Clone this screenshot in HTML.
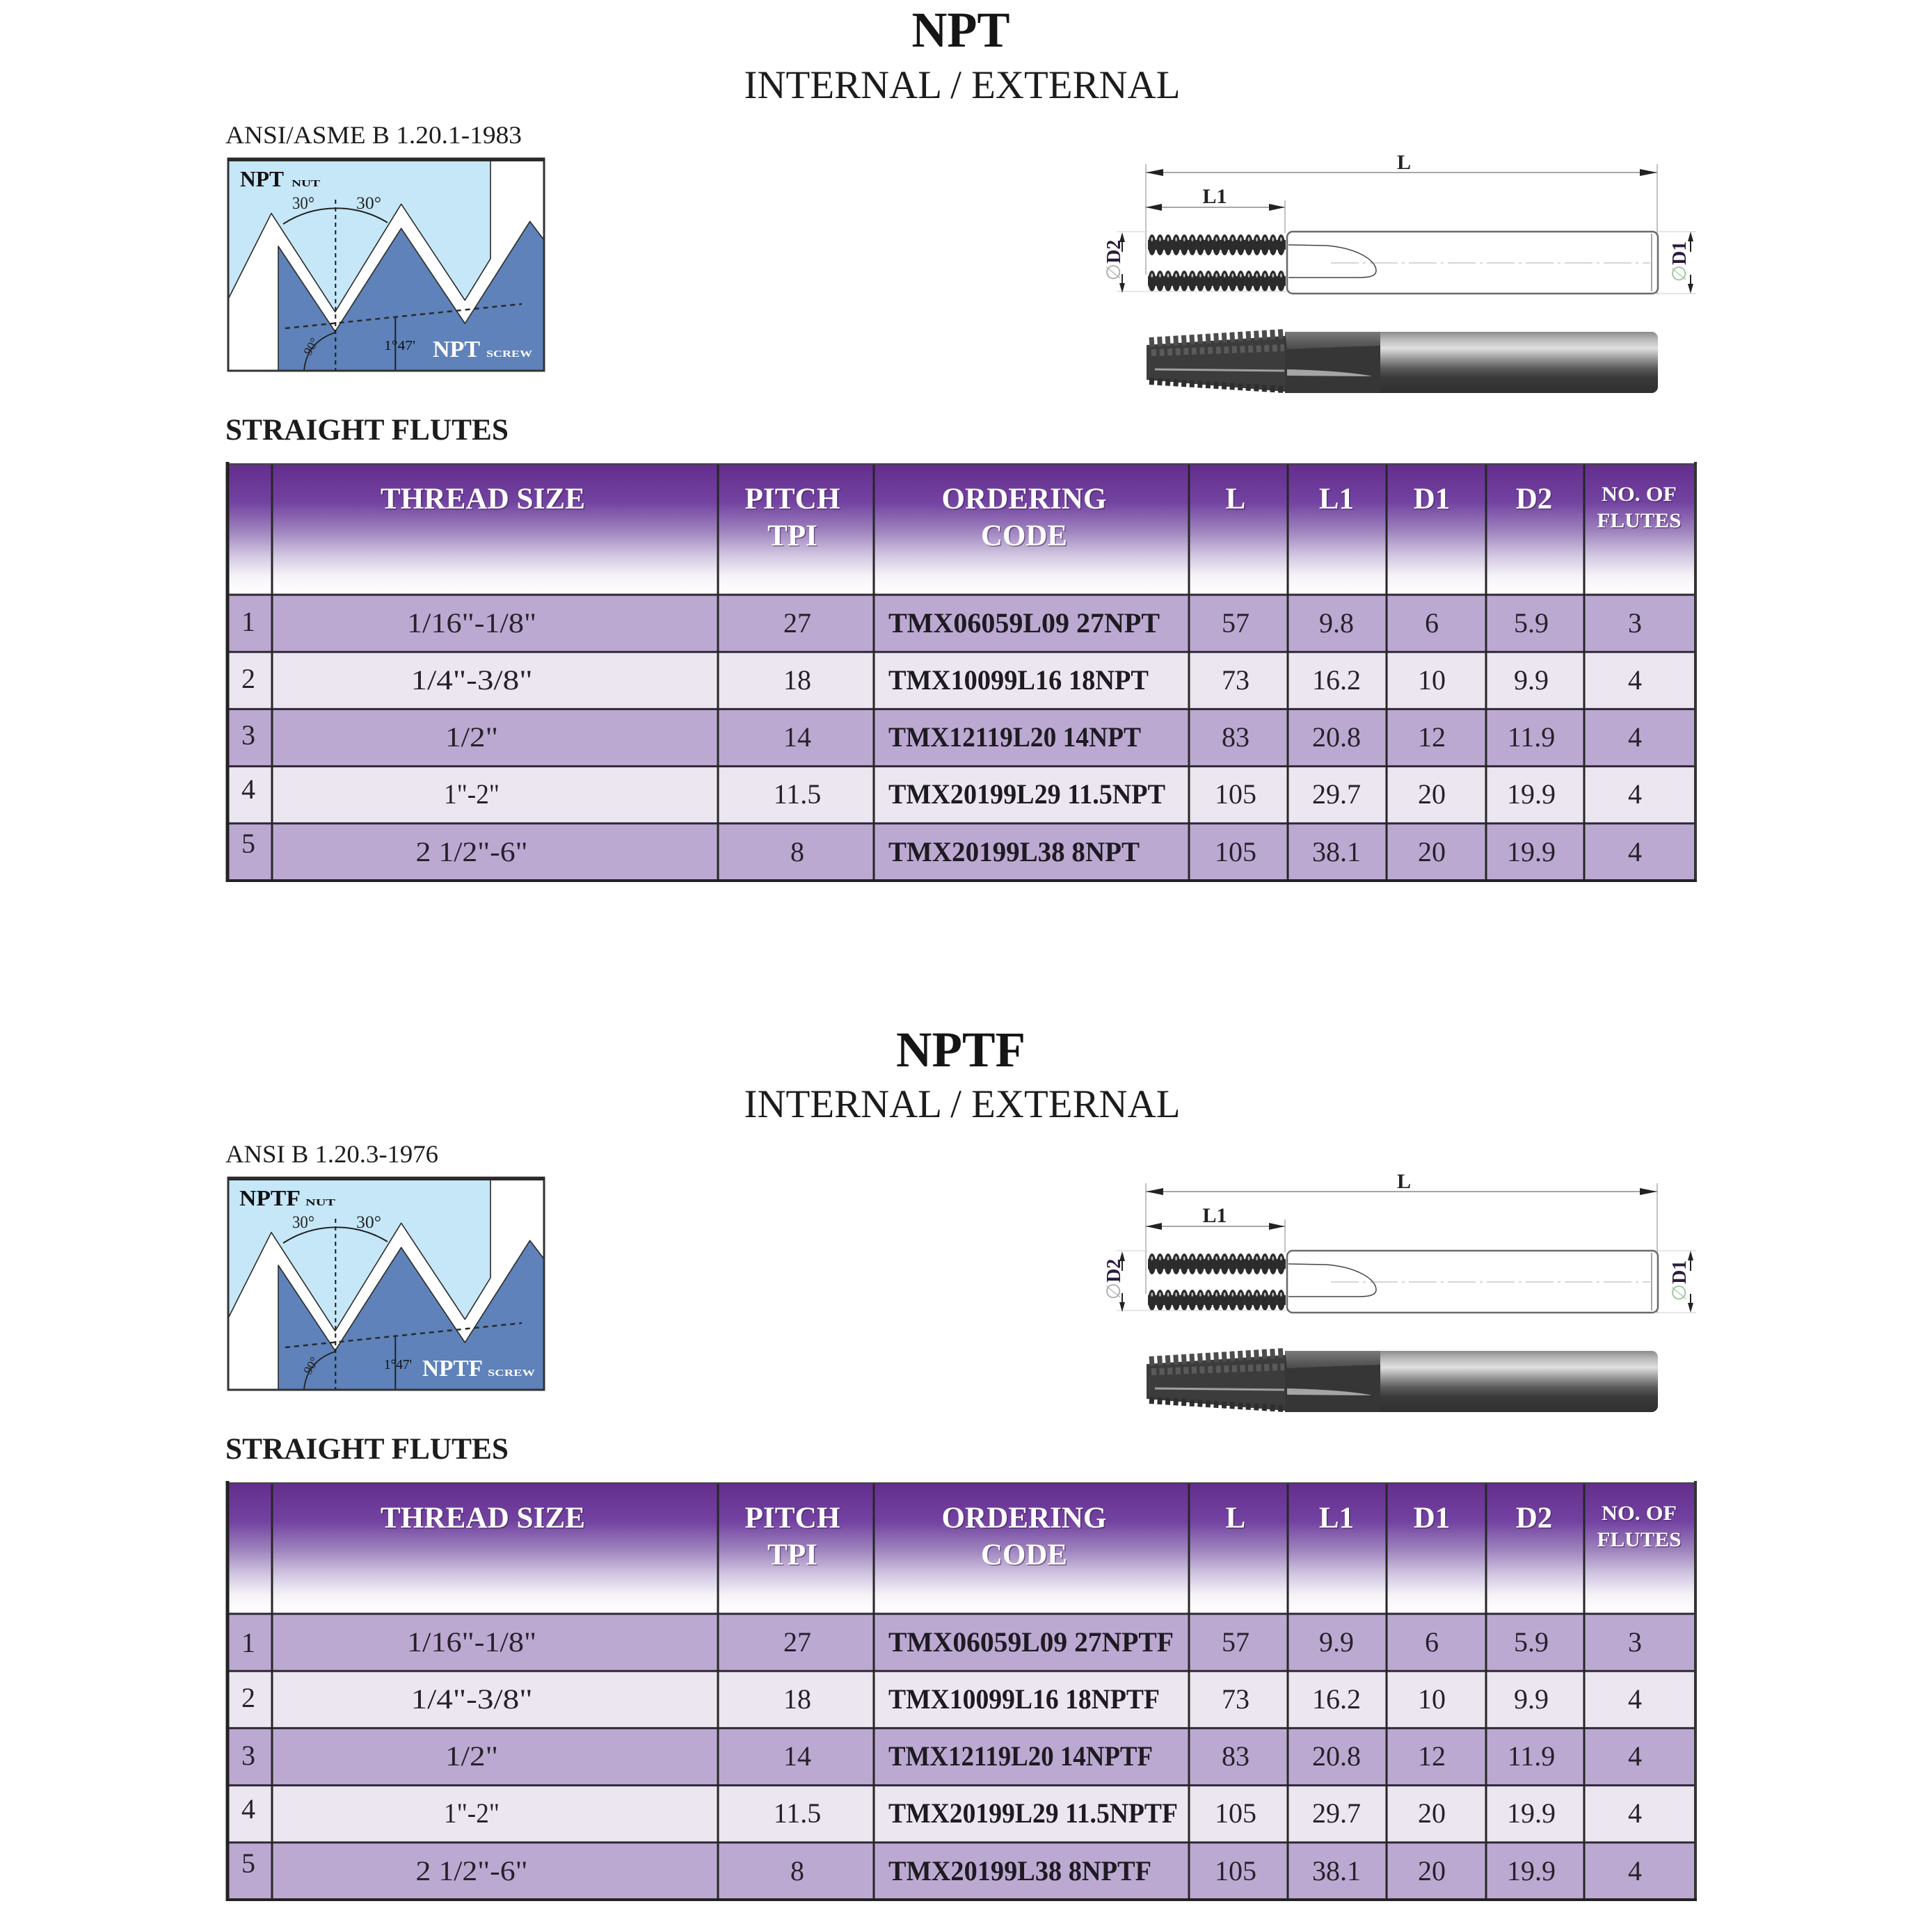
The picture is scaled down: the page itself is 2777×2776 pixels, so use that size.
<!DOCTYPE html>
<html>
<head>
<meta charset="utf-8">
<style>
html,body{margin:0;padding:0;background:#fff;}
svg{display:block;font-family:"Liberation Serif","DejaVu Serif",serif;}
.hs{fill:#3a1d4f;opacity:0.55;font-weight:bold;}
.hw{fill:#ffffff;font-weight:bold;}
.d{fill:#26212b;font-size:40px;}
.c{fill:#1e1a22;font-size:40px;font-weight:bold;}
</style>
</head>
<body>
<svg width="2777" height="2776" viewBox="0 0 2777 2776" xmlns="http://www.w3.org/2000/svg">
<defs>
  <linearGradient id="hdr" x1="0" y1="0" x2="0" y2="1">
    <stop offset="0" stop-color="#632d8c"/>
    <stop offset="0.3" stop-color="#7343a1"/>
    <stop offset="0.52" stop-color="#9f85be"/>
    <stop offset="0.7" stop-color="#d2c6e1"/>
    <stop offset="0.86" stop-color="#f6f3f8"/>
    <stop offset="1" stop-color="#ffffff"/>
  </linearGradient>
  <linearGradient id="shk" x1="0" y1="0" x2="0" y2="1">
    <stop offset="0" stop-color="#8c8c8c"/>
    <stop offset="0.12" stop-color="#b8b8b8"/>
    <stop offset="0.27" stop-color="#e0e0e0"/>
    <stop offset="0.42" stop-color="#a0a0a0"/>
    <stop offset="0.6" stop-color="#5a5a5a"/>
    <stop offset="0.75" stop-color="#3a3a3a"/>
    <stop offset="1" stop-color="#303030"/>
  </linearGradient>
  <linearGradient id="nk" x1="0" y1="0" x2="0" y2="1">
    <stop offset="0" stop-color="#7a7a7a"/>
    <stop offset="1" stop-color="#4a4a4a"/>
  </linearGradient>
  <pattern id="thr" x="1650" y="335" width="11.6" height="33" patternUnits="userSpaceOnUse">
    <rect x="0" y="10" width="11.6" height="14" fill="#333"/>
    <ellipse cx="5.8" cy="17" rx="5.6" ry="15" fill="#2b2b2b"/>
    <ellipse cx="5.8" cy="9" rx="1.4" ry="3" fill="#bdbdbd"/>
  </pattern>

  <g id="diag">
    <rect x="328" y="228" width="454" height="305" fill="#ffffff"/>
    <polygon points="328,228 705,228 705,372 668.3,431.7 576.7,293.3 481.7,448.3 390,306.7 328,430" fill="#c6e7f8"/>
    <polyline points="328,430 390,306.7 481.7,448.3 576.7,293.3 668.3,431.7 705,372 705,228" fill="none" stroke="#2a2a2a" stroke-width="1.6" stroke-linejoin="round"/>
    <polygon points="400,533 400,354 481.7,476.7 576.7,328.3 668.3,465 761.7,318.3 782,345 782,533" fill="#5e82b9"/>
    <polyline points="400,533 400,354 481.7,476.7 576.7,328.3 668.3,465 761.7,318.3 782,345" fill="none" stroke="#2a2a2a" stroke-width="1.6" stroke-linejoin="round"/>
    <line x1="482.3" y1="287" x2="482.3" y2="533" stroke="#1a1a1a" stroke-width="2" stroke-dasharray="6,5"/>
    <path d="M407,322 A141,141 0 0 1 557,320" fill="none" stroke="#222" stroke-width="2"/>
    <line x1="410" y1="472" x2="750" y2="437" stroke="#2a2a2a" stroke-width="2.5" stroke-dasharray="7,6"/>
    <line x1="568.3" y1="456" x2="568.3" y2="532" stroke="#222" stroke-width="2"/>
    <path d="M481.7,478 C455,487 440,505 437,532" fill="none" stroke="#222" stroke-width="1.8"/>
    <rect x="328" y="228" width="454" height="305" fill="none" stroke="#333" stroke-width="3"/>
    <line x1="327" y1="229.5" x2="783" y2="229.5" stroke="#2a2a2a" stroke-width="5"/>
  </g>

  <g id="tool">
    <line x1="1647" y1="248" x2="2382" y2="248" stroke="#8a8a8a" stroke-width="1.5"/>
    <polygon points="1647,248 1672,243 1672,253" fill="#222"/>
    <polygon points="2382,248 2357,243 2357,253" fill="#222"/>
    <line x1="1647" y1="236" x2="1647" y2="395" stroke="#999" stroke-width="1.2"/>
    <line x1="2382" y1="236" x2="2382" y2="423" stroke="#999" stroke-width="1.2"/>
    <line x1="1647" y1="298" x2="1847" y2="298" stroke="#8a8a8a" stroke-width="1.5"/>
    <polygon points="1647,298 1670,293 1670,303" fill="#222"/>
    <polygon points="1847,298 1824,293 1824,303" fill="#222"/>
    <line x1="1847" y1="288" x2="1847" y2="335" stroke="#999" stroke-width="1.2"/>
    <rect x="1850" y="333" width="533" height="89" rx="8" fill="#fff" stroke="#6a6a6a" stroke-width="2.5"/>
    <line x1="2374" y1="336" x2="2374" y2="419" stroke="#888" stroke-width="1.5"/>
    <line x1="1913" y1="378" x2="2372" y2="378" stroke="#c8c8c8" stroke-width="1.5" stroke-dasharray="40,6,4,6"/>
    <rect x="1650" y="335" width="198" height="33" fill="url(#thr)"/>
    <rect x="1650" y="335" width="198" height="33" fill="url(#thr)" transform="translate(0,52)"/>
    <path d="M1852,352 L1905,353 C1950,356 1978,374 1978,389 C1978,397 1968,399 1952,399 L1852,399" fill="none" stroke="#444" stroke-width="1.5"/>
    <line x1="1605" y1="333" x2="1650" y2="333" stroke="#d8d8d8" stroke-width="1.2"/>
    <line x1="1605" y1="419" x2="1850" y2="419" stroke="#d8d8d8" stroke-width="1.2"/>
    <line x1="1613" y1="345" x2="1613" y2="362" stroke="#222" stroke-width="2"/>
    <polygon points="1613,334 1609,348 1617,348" fill="#222"/>
    <line x1="1613" y1="394" x2="1613" y2="410" stroke="#222" stroke-width="2"/>
    <polygon points="1613,421 1609,407 1617,407" fill="#222"/>
    <line x1="2383" y1="333" x2="2438" y2="333" stroke="#d8d8d8" stroke-width="1.2"/>
    <line x1="2383" y1="422" x2="2438" y2="422" stroke="#d8d8d8" stroke-width="1.2"/>
    <line x1="2430" y1="345" x2="2430" y2="362" stroke="#222" stroke-width="2"/>
    <polygon points="2430,333 2426,347 2434,347" fill="#222"/>
    <line x1="2430" y1="395" x2="2430" y2="410" stroke="#222" stroke-width="2"/>
    <polygon points="2430,422 2426,408 2434,408" fill="#222"/>
    <rect x="1975" y="477" width="408" height="88" rx="9" fill="url(#shk)"/>
    <polygon points="1648,496 1847,483 1847,563 1648,546" fill="#3c3c3c"/>
    <line x1="1652" y1="492" x2="1846" y2="480" stroke="#4d4d4d" stroke-width="14" stroke-dasharray="7 4.6"/>
    <line x1="1655" y1="507" x2="1846" y2="500" stroke="#5a5a5a" stroke-width="10" stroke-dasharray="7 4.6"/>
    <line x1="1652" y1="548" x2="1846" y2="560" stroke="#2e2e2e" stroke-width="10" stroke-dasharray="7 4.6"/>
    <line x1="1660" y1="531" x2="1846" y2="533" stroke="#a0a0a0" stroke-width="3"/>
    <rect x="1847" y="477" width="137" height="88" fill="#363636"/>
    <path d="M1847,477 L1984,477 L1984,497 C1950,498 1900,500 1850,502 Z" fill="url(#nk)"/>
    <path d="M1850,531 C1900,532 1950,536 1972,541 L1850,540 Z" fill="#a5a5a5"/>
  </g>

  <g id="tbl">
    <rect x="327" y="666" width="2110" height="189" fill="url(#hdr)"/>
    <rect x="327" y="855" width="2110" height="82.2" fill="#bca9d1"/>
    <rect x="327" y="937.2" width="2110" height="82.2" fill="#ebe6ef"/>
    <rect x="327" y="1019.4" width="2110" height="82.2" fill="#bca9d1"/>
    <rect x="327" y="1101.6" width="2110" height="82.2" fill="#ebe6ef"/>
    <rect x="327" y="1183.8" width="2110" height="82.2" fill="#bca9d1"/>
    <g stroke="#2f2936" stroke-width="3">
      <line x1="327" y1="855" x2="2437" y2="855"/>
      <line x1="327" y1="937.2" x2="2437" y2="937.2"/>
      <line x1="327" y1="1019.4" x2="2437" y2="1019.4"/>
      <line x1="327" y1="1101.6" x2="2437" y2="1101.6"/>
      <line x1="327" y1="1183.8" x2="2437" y2="1183.8"/>
    </g>
    <g stroke="#262626" stroke-width="3">
      <line x1="391" y1="666" x2="391" y2="1266"/>
      <line x1="1032" y1="666" x2="1032" y2="1266"/>
      <line x1="1256" y1="666" x2="1256" y2="1266"/>
      <line x1="1709" y1="666" x2="1709" y2="1266"/>
      <line x1="1851" y1="666" x2="1851" y2="1266"/>
      <line x1="1993" y1="666" x2="1993" y2="1266"/>
      <line x1="2136" y1="666" x2="2136" y2="1266"/>
      <line x1="2277" y1="666" x2="2277" y2="1266"/>
    </g>
    <line x1="327" y1="667" x2="2437" y2="667" stroke="#444" stroke-width="2"/>
    <line x1="327" y1="664" x2="327" y2="1268" stroke="#222" stroke-width="5"/>
    <line x1="2437" y1="664" x2="2437" y2="1268" stroke="#333" stroke-width="4"/>
    <line x1="325" y1="1266" x2="2439" y2="1266" stroke="#222" stroke-width="4"/>
  </g>
</defs>

<!-- ================= SECTION 1 : NPT ================= -->
<g>
  <text x="1381" y="67" text-anchor="middle" font-size="72" font-weight="bold" fill="#151515" textLength="141" lengthAdjust="spacingAndGlyphs">NPT</text>
  <text x="1383" y="141" text-anchor="middle" font-size="57" fill="#1c1c1c" textLength="627" lengthAdjust="spacingAndGlyphs">INTERNAL / EXTERNAL</text>
  <text x="324" y="206" font-size="36" fill="#1c1c1c" textLength="426" lengthAdjust="spacingAndGlyphs">ANSI/ASME B 1.20.1-1983</text>

  <use href="#diag"/>
  <text x="345" y="268" font-size="32" font-weight="bold" fill="#111" textLength="63" lengthAdjust="spacingAndGlyphs">NPT</text>
  <text x="419" y="268" font-size="14" font-weight="bold" fill="#111" textLength="41" lengthAdjust="spacingAndGlyphs">NUT</text>
  <text x="420" y="300" font-size="25" fill="#222" textLength="32" lengthAdjust="spacingAndGlyphs">30°</text>
  <text x="512" y="300" font-size="25" fill="#222" textLength="36" lengthAdjust="spacingAndGlyphs">30°</text>
  <text transform="translate(446,512) rotate(-60)" font-size="18" fill="#222">90°</text>
  <text x="552" y="503" font-size="20" fill="#111" textLength="45" lengthAdjust="spacingAndGlyphs">1°47'</text>
  <text x="622" y="513" font-size="34" font-weight="bold" fill="#fff" textLength="68" lengthAdjust="spacingAndGlyphs">NPT</text>
  <text x="699" y="513" font-size="14" font-weight="bold" fill="#fff" textLength="66" lengthAdjust="spacingAndGlyphs">SCREW</text>

  <use href="#tool"/>
  <text x="2018" y="243" text-anchor="middle" font-size="30" font-weight="bold" fill="#222">L</text>
  <text x="1746" y="292" text-anchor="middle" font-size="30" font-weight="bold" fill="#222">L1</text>
  <text transform="translate(1610,374) rotate(-90)" text-anchor="middle" font-size="28" font-weight="bold"><tspan fill="#aaa" font-weight="normal">∅</tspan><tspan fill="#2d1b3d">D2</tspan></text>
  <text transform="translate(2423,376) rotate(-90)" text-anchor="middle" font-size="28" font-weight="bold"><tspan fill="#9bc39b" font-weight="normal">∅</tspan><tspan fill="#2d1b3d">D1</tspan></text>

  <text x="324" y="632" font-size="43" font-weight="bold" fill="#1c1c1c" textLength="407" lengthAdjust="spacingAndGlyphs">STRAIGHT FLUTES</text>

  <use href="#tbl"/>
  <g font-size="43" text-anchor="middle">
    <text class="hs" x="695.5" y="732.5" textLength="294" lengthAdjust="spacingAndGlyphs">THREAD SIZE</text>
    <text class="hw" x="694" y="731" textLength="294" lengthAdjust="spacingAndGlyphs">THREAD SIZE</text>
    <text class="hs" x="1140.5" y="732.5" textLength="137" lengthAdjust="spacingAndGlyphs">PITCH</text>
    <text class="hw" x="1139" y="731" textLength="137" lengthAdjust="spacingAndGlyphs">PITCH</text>
    <text class="hs" x="1140.5" y="785.5">TPI</text>
    <text class="hw" x="1139" y="784">TPI</text>
    <text class="hs" x="1473.5" y="732.5" textLength="237" lengthAdjust="spacingAndGlyphs">ORDERING</text>
    <text class="hw" x="1472" y="731" textLength="237" lengthAdjust="spacingAndGlyphs">ORDERING</text>
    <text class="hs" x="1473.5" y="785.5" textLength="124" lengthAdjust="spacingAndGlyphs">CODE</text>
    <text class="hw" x="1472" y="784" textLength="124" lengthAdjust="spacingAndGlyphs">CODE</text>
    <text class="hs" x="1777.5" y="732.5">L</text>
    <text class="hw" x="1776" y="731">L</text>
    <text class="hs" x="1922.5" y="732.5">L1</text>
    <text class="hw" x="1921" y="731">L1</text>
    <text class="hs" x="2059.5" y="732.5">D1</text>
    <text class="hw" x="2058" y="731">D1</text>
    <text class="hs" x="2206.5" y="732.5">D2</text>
    <text class="hw" x="2205" y="731">D2</text>
  </g>
  <g font-size="30" text-anchor="middle">
    <text class="hs" x="2357.5" y="721.5" textLength="108" lengthAdjust="spacingAndGlyphs">NO. OF</text>
    <text class="hw" x="2356" y="720" textLength="108" lengthAdjust="spacingAndGlyphs">NO. OF</text>
    <text class="hs" x="2357.5" y="759.5" textLength="121" lengthAdjust="spacingAndGlyphs">FLUTES</text>
    <text class="hw" x="2356" y="758" textLength="121" lengthAdjust="spacingAndGlyphs">FLUTES</text>
  </g>

  <g text-anchor="middle">
    <text class="d" x="357" y="907">1</text>
    <text class="d" x="357" y="989">2</text>
    <text class="d" x="357" y="1070">3</text>
    <text class="d" x="357" y="1148">4</text>
    <text class="d" x="357" y="1226">5</text>

    <text class="d" x="678" y="909" textLength="186" lengthAdjust="spacingAndGlyphs">1/16"-1/8"</text>
    <text class="d" x="678" y="991" textLength="175" lengthAdjust="spacingAndGlyphs">1/4"-3/8"</text>
    <text class="d" x="678" y="1073" textLength="76" lengthAdjust="spacingAndGlyphs">1/2"</text>
    <text class="d" x="678" y="1155" textLength="80" lengthAdjust="spacingAndGlyphs">1"-2"</text>
    <text class="d" x="678" y="1238" textLength="161" lengthAdjust="spacingAndGlyphs">2 1/2"-6"</text>

    <text class="d" x="1146" y="909">27</text>
    <text class="d" x="1146" y="991">18</text>
    <text class="d" x="1146" y="1073">14</text>
    <text class="d" x="1146" y="1155">11.5</text>
    <text class="d" x="1146" y="1238">8</text>

    <text class="d" x="1776" y="909">57</text>
    <text class="d" x="1776" y="991">73</text>
    <text class="d" x="1776" y="1073">83</text>
    <text class="d" x="1776" y="1155">105</text>
    <text class="d" x="1776" y="1238">105</text>

    <text class="d" x="1921" y="909">9.8</text>
    <text class="d" x="1921" y="991">16.2</text>
    <text class="d" x="1921" y="1073">20.8</text>
    <text class="d" x="1921" y="1155">29.7</text>
    <text class="d" x="1921" y="1238">38.1</text>

    <text class="d" x="2058" y="909">6</text>
    <text class="d" x="2058" y="991">10</text>
    <text class="d" x="2058" y="1073">12</text>
    <text class="d" x="2058" y="1155">20</text>
    <text class="d" x="2058" y="1238">20</text>

    <text class="d" x="2201" y="909">5.9</text>
    <text class="d" x="2201" y="991">9.9</text>
    <text class="d" x="2201" y="1073">11.9</text>
    <text class="d" x="2201" y="1155">19.9</text>
    <text class="d" x="2201" y="1238">19.9</text>

    <text class="d" x="2350" y="909">3</text>
    <text class="d" x="2350" y="991">4</text>
    <text class="d" x="2350" y="1073">4</text>
    <text class="d" x="2350" y="1155">4</text>
    <text class="d" x="2350" y="1238">4</text>
  </g>
  <g>
    <text class="c" x="1277" y="909" textLength="390" lengthAdjust="spacingAndGlyphs">TMX06059L09 27NPT</text>
    <text class="c" x="1277" y="991" textLength="374" lengthAdjust="spacingAndGlyphs">TMX10099L16 18NPT</text>
    <text class="c" x="1277" y="1073" textLength="363" lengthAdjust="spacingAndGlyphs">TMX12119L20 14NPT</text>
    <text class="c" x="1277" y="1155" textLength="398" lengthAdjust="spacingAndGlyphs">TMX20199L29 11.5NPT</text>
    <text class="c" x="1277" y="1238" textLength="361" lengthAdjust="spacingAndGlyphs">TMX20199L38 8NPT</text>
  </g>
</g>

<!-- ================= SECTION 2 : NPTF ================= -->
<g transform="translate(0,1465)">
  <text x="1381" y="68" text-anchor="middle" font-size="72" font-weight="bold" fill="#151515" textLength="186" lengthAdjust="spacingAndGlyphs">NPTF</text>
  <text x="1383" y="141" text-anchor="middle" font-size="57" fill="#1c1c1c" textLength="627" lengthAdjust="spacingAndGlyphs">INTERNAL / EXTERNAL</text>
  <text x="324" y="206" font-size="36" fill="#1c1c1c" textLength="306" lengthAdjust="spacingAndGlyphs">ANSI B 1.20.3-1976</text>

  <use href="#diag"/>
  <text x="344" y="268" font-size="32" font-weight="bold" fill="#111" textLength="88" lengthAdjust="spacingAndGlyphs">NPTF</text>
  <text x="439" y="268" font-size="14" font-weight="bold" fill="#111" textLength="43" lengthAdjust="spacingAndGlyphs">NUT</text>
  <text x="420" y="300" font-size="25" fill="#222" textLength="32" lengthAdjust="spacingAndGlyphs">30°</text>
  <text x="512" y="300" font-size="25" fill="#222" textLength="36" lengthAdjust="spacingAndGlyphs">30°</text>
  <text transform="translate(446,512) rotate(-60)" font-size="18" fill="#222">90°</text>
  <text x="552" y="503" font-size="20" fill="#111" textLength="40" lengthAdjust="spacingAndGlyphs">1°47'</text>
  <text x="607" y="513" font-size="34" font-weight="bold" fill="#fff" textLength="87" lengthAdjust="spacingAndGlyphs">NPTF</text>
  <text x="701" y="513" font-size="14" font-weight="bold" fill="#fff" textLength="68" lengthAdjust="spacingAndGlyphs">SCREW</text>

  <use href="#tool"/>
  <text x="2018" y="243" text-anchor="middle" font-size="30" font-weight="bold" fill="#222">L</text>
  <text x="1746" y="292" text-anchor="middle" font-size="30" font-weight="bold" fill="#222">L1</text>
  <text transform="translate(1610,374) rotate(-90)" text-anchor="middle" font-size="28" font-weight="bold"><tspan fill="#aaa" font-weight="normal">∅</tspan><tspan fill="#2d1b3d">D2</tspan></text>
  <text transform="translate(2423,376) rotate(-90)" text-anchor="middle" font-size="28" font-weight="bold"><tspan fill="#9bc39b" font-weight="normal">∅</tspan><tspan fill="#2d1b3d">D1</tspan></text>

  <text x="324" y="632" font-size="43" font-weight="bold" fill="#1c1c1c" textLength="407" lengthAdjust="spacingAndGlyphs">STRAIGHT FLUTES</text>

  <use href="#tbl"/>
  <g font-size="43" text-anchor="middle">
    <text class="hs" x="695.5" y="732.5" textLength="294" lengthAdjust="spacingAndGlyphs">THREAD SIZE</text>
    <text class="hw" x="694" y="731" textLength="294" lengthAdjust="spacingAndGlyphs">THREAD SIZE</text>
    <text class="hs" x="1140.5" y="732.5" textLength="137" lengthAdjust="spacingAndGlyphs">PITCH</text>
    <text class="hw" x="1139" y="731" textLength="137" lengthAdjust="spacingAndGlyphs">PITCH</text>
    <text class="hs" x="1140.5" y="785.5">TPI</text>
    <text class="hw" x="1139" y="784">TPI</text>
    <text class="hs" x="1473.5" y="732.5" textLength="237" lengthAdjust="spacingAndGlyphs">ORDERING</text>
    <text class="hw" x="1472" y="731" textLength="237" lengthAdjust="spacingAndGlyphs">ORDERING</text>
    <text class="hs" x="1473.5" y="785.5" textLength="124" lengthAdjust="spacingAndGlyphs">CODE</text>
    <text class="hw" x="1472" y="784" textLength="124" lengthAdjust="spacingAndGlyphs">CODE</text>
    <text class="hs" x="1777.5" y="732.5">L</text>
    <text class="hw" x="1776" y="731">L</text>
    <text class="hs" x="1922.5" y="732.5">L1</text>
    <text class="hw" x="1921" y="731">L1</text>
    <text class="hs" x="2059.5" y="732.5">D1</text>
    <text class="hw" x="2058" y="731">D1</text>
    <text class="hs" x="2206.5" y="732.5">D2</text>
    <text class="hw" x="2205" y="731">D2</text>
  </g>
  <g font-size="30" text-anchor="middle">
    <text class="hs" x="2357.5" y="721.5" textLength="108" lengthAdjust="spacingAndGlyphs">NO. OF</text>
    <text class="hw" x="2356" y="720" textLength="108" lengthAdjust="spacingAndGlyphs">NO. OF</text>
    <text class="hs" x="2357.5" y="759.5" textLength="121" lengthAdjust="spacingAndGlyphs">FLUTES</text>
    <text class="hw" x="2356" y="758" textLength="121" lengthAdjust="spacingAndGlyphs">FLUTES</text>
  </g>

  <g text-anchor="middle">
    <text class="d" x="357" y="910">1</text>
    <text class="d" x="357" y="989">2</text>
    <text class="d" x="357" y="1072">3</text>
    <text class="d" x="357" y="1149">4</text>
    <text class="d" x="357" y="1227">5</text>

    <text class="d" x="678" y="909" textLength="186" lengthAdjust="spacingAndGlyphs">1/16"-1/8"</text>
    <text class="d" x="678" y="991" textLength="175" lengthAdjust="spacingAndGlyphs">1/4"-3/8"</text>
    <text class="d" x="678" y="1073" textLength="76" lengthAdjust="spacingAndGlyphs">1/2"</text>
    <text class="d" x="678" y="1155" textLength="80" lengthAdjust="spacingAndGlyphs">1"-2"</text>
    <text class="d" x="678" y="1238" textLength="161" lengthAdjust="spacingAndGlyphs">2 1/2"-6"</text>

    <text class="d" x="1146" y="909">27</text>
    <text class="d" x="1146" y="991">18</text>
    <text class="d" x="1146" y="1073">14</text>
    <text class="d" x="1146" y="1155">11.5</text>
    <text class="d" x="1146" y="1238">8</text>

    <text class="d" x="1776" y="909">57</text>
    <text class="d" x="1776" y="991">73</text>
    <text class="d" x="1776" y="1073">83</text>
    <text class="d" x="1776" y="1155">105</text>
    <text class="d" x="1776" y="1238">105</text>

    <text class="d" x="1921" y="909">9.9</text>
    <text class="d" x="1921" y="991">16.2</text>
    <text class="d" x="1921" y="1073">20.8</text>
    <text class="d" x="1921" y="1155">29.7</text>
    <text class="d" x="1921" y="1238">38.1</text>

    <text class="d" x="2058" y="909">6</text>
    <text class="d" x="2058" y="991">10</text>
    <text class="d" x="2058" y="1073">12</text>
    <text class="d" x="2058" y="1155">20</text>
    <text class="d" x="2058" y="1238">20</text>

    <text class="d" x="2201" y="909">5.9</text>
    <text class="d" x="2201" y="991">9.9</text>
    <text class="d" x="2201" y="1073">11.9</text>
    <text class="d" x="2201" y="1155">19.9</text>
    <text class="d" x="2201" y="1238">19.9</text>

    <text class="d" x="2350" y="909">3</text>
    <text class="d" x="2350" y="991">4</text>
    <text class="d" x="2350" y="1073">4</text>
    <text class="d" x="2350" y="1155">4</text>
    <text class="d" x="2350" y="1238">4</text>
  </g>
  <g>
    <text class="c" x="1277" y="909" textLength="410" lengthAdjust="spacingAndGlyphs">TMX06059L09 27NPTF</text>
    <text class="c" x="1277" y="991" textLength="390" lengthAdjust="spacingAndGlyphs">TMX10099L16 18NPTF</text>
    <text class="c" x="1277" y="1073" textLength="380" lengthAdjust="spacingAndGlyphs">TMX12119L20 14NPTF</text>
    <text class="c" x="1277" y="1155" textLength="416" lengthAdjust="spacingAndGlyphs">TMX20199L29 11.5NPTF</text>
    <text class="c" x="1277" y="1238" textLength="378" lengthAdjust="spacingAndGlyphs">TMX20199L38 8NPTF</text>
  </g>
</g>
</svg>
</body>
</html>
